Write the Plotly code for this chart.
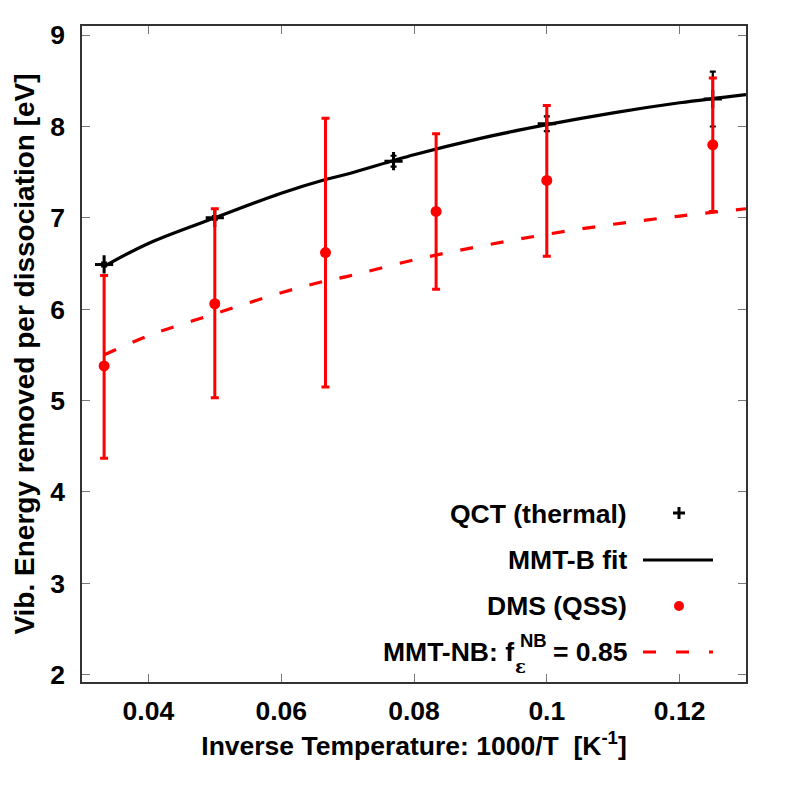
import plotly.graph_objects as go

# ---------------- data ----------------
qct_x = [0.03333, 0.05, 0.07692, 0.1, 0.125]
qct_y = [6.49, 7.0, 7.62, 8.03, 8.30]
qct_err = [0.02, 0.02, 0.06, 0.08, 0.30]

dms_x = [0.03333, 0.05, 0.06667, 0.08333, 0.1, 0.125]
dms_y = [5.38, 6.06, 6.62, 7.07, 7.41, 7.80]
dms_err_plus = [0.99, 1.04, 1.47, 0.85, 0.82, 0.73]
dms_err_minus = [1.01, 1.03, 1.47, 0.85, 0.83, 0.73]

fit_x = [0.03333, 0.04, 0.05, 0.06, 0.06667, 0.07, 0.08, 0.09, 0.1, 0.11, 0.12, 0.13]
fitB_y = [6.47, 6.72, 7.00, 7.27, 7.42, 7.48, 7.69, 7.87, 8.02, 8.15, 8.26, 8.35]
fitNB_y = [5.50, 5.71, 5.95, 6.18, 6.31, 6.36, 6.54, 6.69, 6.82, 6.93, 7.02, 7.10]

x_tickvals = [0.04, 0.06, 0.08, 0.1, 0.12]
x_ticktext = ["0.04", "0.06", "0.08", "0.1", "0.12"]
y_tickvals = [2, 3, 4, 5, 6, 7, 8, 9]
y_ticktext = ["2", "3", "4", "5", "6", "7", "8", "9"]

legend_labels = ["QCT (thermal)", "MMT-B fit", "DMS (QSS)"]

FONT = "Liberation Sans, Arial, sans-serif"
FS = 26.5

# target plot-area geometry in screenshot pixels (page has 8px body offset)
W = H = 793
OFF = 8
L, R, T, B = 82, 746, 26, 682


def px(xp):
    return (xp - L) / (R - L)


def py(yp):
    return (B - yp) / (B - T)


def F(size=FS, family=FONT):
    return dict(family=family, size=size, color="black", weight="bold")


fig = go.Figure()

fig.add_trace(go.Scatter(
    x=fit_x, y=fitB_y, mode="lines",
    line=dict(color="black", width=3.2, shape="spline"),
    showlegend=False, hoverinfo="skip"))

fig.add_trace(go.Scatter(
    x=qct_x, y=qct_y, mode="markers",
    marker=dict(symbol="cross-thin", size=13, color="black",
                line=dict(color="black", width=3)),
    error_y=dict(type="data", array=qct_err, color="black", thickness=2.2, width=3),
    showlegend=False))

fig.add_trace(go.Scatter(
    x=fit_x, y=fitNB_y, mode="lines",
    line=dict(color="#ff0000", width=3.2, dash="13px,18px", shape="spline"),
    showlegend=False, hoverinfo="skip"))

fig.add_trace(go.Scatter(
    x=dms_x, y=dms_y, mode="markers",
    marker=dict(symbol="circle", size=11, color="#ff0000"),
    error_y=dict(type="data", array=dms_err_plus, arrayminus=dms_err_minus,
                 color="#ff0000", thickness=3, width=4),
    showlegend=False))

# ---------------- legend (gnuplot-style: text right, sample left) ----------------
ann = []
rows_y = [514, 560, 606]
for lab, yy in zip(legend_labels, rows_y):
    ann.append(dict(x=px(629), y=py(yy), xref="paper", yref="paper",
                    text=lab, showarrow=False, xanchor="right", yanchor="middle",
                    font=F()))
# composite last label with stacked sub/superscript
ann.append(dict(x=px(516), y=py(652), xref="paper", yref="paper",
                text="MMT-NB: f", showarrow=False, xanchor="right", yanchor="middle",
                font=F()))
ann.append(dict(x=px(518), y=py(640), xref="paper", yref="paper",
                text="NB", showarrow=False, xanchor="left", yanchor="middle",
                font=F(18.5)))
ann.append(dict(x=px(513), y=py(666), xref="paper", yref="paper",
                text="ε", showarrow=False, xanchor="left", yanchor="middle",
                font=dict(family="DejaVu Serif, serif", size=18, color="black")))
ann.append(dict(x=px(629), y=py(652), xref="paper", yref="paper",
                text="= 0.85", showarrow=False, xanchor="right", yanchor="middle",
                font=F()))

shapes = [
    # QCT '+' sample
    dict(type="line", xref="paper", yref="paper", x0=px(673), x1=px(685), y0=py(513), y1=py(513),
         line=dict(color="black", width=3)),
    dict(type="line", xref="paper", yref="paper", x0=px(679), x1=px(679), y0=py(507), y1=py(519),
         line=dict(color="black", width=3)),
    # MMT-B sample
    dict(type="line", xref="paper", yref="paper", x0=px(643), x1=px(713), y0=py(560), y1=py(560),
         line=dict(color="black", width=3.2)),
    # DMS dot sample
    dict(type="circle", xref="paper", yref="paper", x0=px(674), x1=px(684), y0=py(601), y1=py(611),
         fillcolor="#ff0000", line=dict(color="#ff0000", width=0)),
    # MMT-NB sample
    dict(type="line", xref="paper", yref="paper", x0=px(643), x1=px(713), y0=py(652), y1=py(652),
         line=dict(color="#ff0000", width=3.2, dash="13px,20px")),
]

fig.update_layout(
    width=W, height=H,
    margin=dict(l=L - OFF, r=W - R + OFF, t=T - OFF, b=H - B + OFF),
    plot_bgcolor="white", paper_bgcolor="white",
    font=F(),
    annotations=ann, shapes=shapes,
    showlegend=False,
)

fig.update_xaxes(
    range=[0.03, 0.13], tickvals=x_tickvals, ticktext=x_ticktext,
    ticks="inside", ticklen=8, tickwidth=1, tickcolor="#777777",
    showline=True, linecolor="#333333", linewidth=1.5, mirror="ticks",
    showgrid=False, zeroline=False,
    tickfont=F(),
    ticklabelstandoff=4,
    title=dict(text="Inverse Temperature: 1000/T  [K<sup>-1</sup>]",
               font=F(), standoff=12),
)
fig.update_yaxes(
    range=[1.92, 9.1], tickvals=y_tickvals, ticktext=y_ticktext,
    ticks="inside", ticklen=8, tickwidth=1, tickcolor="#777777",
    showline=True, linecolor="#333333", linewidth=1.5, mirror="ticks",
    showgrid=False, zeroline=False,
    tickfont=F(),
    ticklabelstandoff=10,
    title=dict(text="Vib. Energy removed per dissociation [eV]",
               font=F(28), standoff=7),
)

fig.write_html("out.html")
